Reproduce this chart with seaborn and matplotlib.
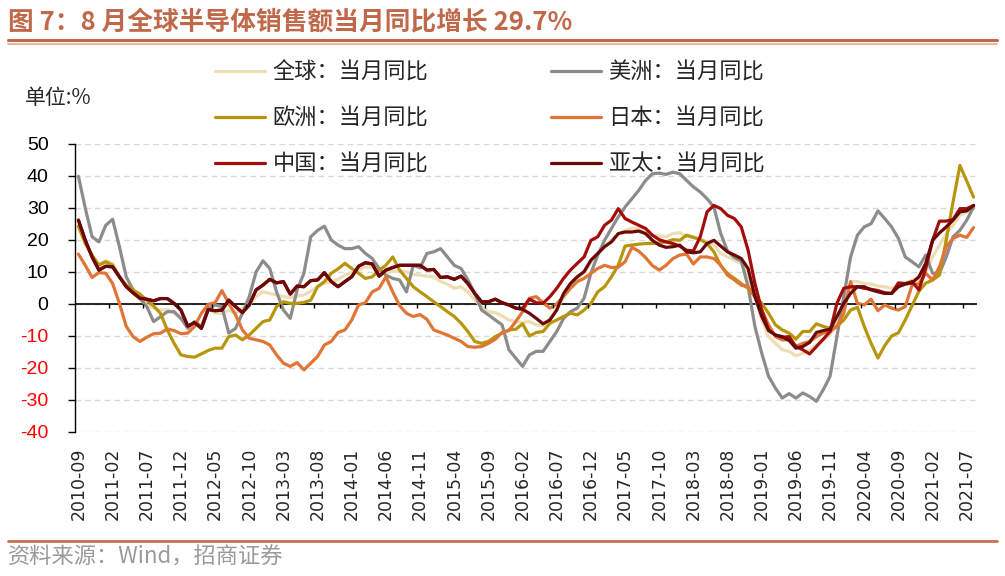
import pandas as pd
import matplotlib
matplotlib.use('Agg')
import matplotlib.pyplot as plt
from matplotlib.lines import Line2D
import seaborn as sns

# Data: monthly YoY growth (%), 2010-09 .. 2021-08
months = pd.date_range('2010-09-01', periods=132, freq='MS').strftime('%Y-%m')

global_yoy = [
    24.3, 19.0, 15.0, 12.5,
    13.5, 12.7, 8.5, 5.4, 3.3, 1.5, -0.3, -1.3, -1.9, -1.7, -2.9, -4.5,
    -7.0, -6.0, -7.6, -1.3, -2.9, -2.9, -1.9, -2.9, -1.3, -0.3, 2.3, 3.8,
    3.3, 2.8, 2.3, 2.0, 2.5, 2.8, 4.0, 5.5, 6.4, 7.0, 7.7, 9.0,
    9.8, 10.6, 11.6, 11.4, 10.6, 10.0, 10.2, 10.4, 10.0, 9.3, 9.0, 8.7,
    8.5, 7.0, 6.2, 4.9, 5.4, 3.8, 1.2, -0.8, -2.4, -2.7, -3.7, -5.0,
    -5.5, -5.8, -5.5, -6.5, -6.8, -4.5, -1.5, 1.8, 5.0, 8.0, 10.0, 13.0,
    15.5, 18.0, 20.0, 21.8, 23.0, 23.6, 23.6, 22.2, 21.5, 21.3, 21.0, 22.0,
    22.3, 21.2, 21.0, 20.5, 19.4, 18.4, 15.8, 14.7, 13.7, 12.7, 9.0, 2.3,
    -5.0, -10.2, -12.3, -14.3, -14.8, -16.2, -15.4, -14.3, -12.8, -11.2, -9.7, -5.5,
    0.2, 7.0, 7.0, 6.4, 6.2, 5.6, 5.4, 4.9, 5.4, 6.4, 7.5, 8.0,
    10.1, 14.7, 18.4, 22.0, 24.6, 27.7, 28.8, 29.7]

americas_yoy = [
    39.9, 30.0, 21.0, 19.4,
    24.6, 26.5, 17.9, 8.5, 4.4, 1.8, -0.8, -5.5, -4.0, -2.4, -2.4, -4.5,
    -7.6, -5.5, -7.0, -1.3, -0.3, -0.8, -9.1, -7.6, -2.9, 2.3, 10.0, 13.5,
    11.1, 3.8, -1.9, -4.5, 4.4, 9.6, 21.0, 23.0, 24.3, 20.0, 18.4, 17.3,
    17.3, 17.9, 15.8, 14.2, 11.1, 9.0, 8.0, 7.5, 3.8, 12.1, 11.3, 15.8,
    16.3, 17.3, 14.7, 12.1, 11.1, 7.5, 3.3, -1.9, -3.4, -5.0, -6.5, -14.3,
    -16.9, -19.5, -15.9, -14.8, -14.8, -11.7, -8.6, -4.5, -2.4, -1.3, 1.8, 9.6,
    15.3, 19.9, 23.6, 27.2, 30.3, 32.9, 35.5, 38.6, 40.7, 40.9, 40.5, 41.2,
    40.7, 38.6, 36.6, 35.0, 32.9, 30.3, 22.0, 16.5, 14.5, 13.5, 5.4, -7.0,
    -15.4, -22.6, -26.3, -29.4, -28.0, -29.4, -27.8, -28.9, -30.4, -26.8, -22.6, -10.2,
    2.3, 14.7, 21.5, 24.1, 25.1, 29.1, 26.7, 24.1, 20.5, 14.7, 13.2, 11.6,
    15.3, 9.6, 9.6, 14.7, 21.0, 23.0, 26.2, 30.3]

europe_yoy = [
    24.3, 18.9, 15.3, 12.1,
    13.2, 12.1, 8.5, 5.9, 4.4, 3.1, 1.2, -0.6, -2.9, -8.1, -12.3, -15.9,
    -16.4, -16.6, -15.6, -14.5, -13.8, -13.8, -10.2, -9.7, -11.2, -9.7, -7.6, -5.5,
    -5.0, -0.8, 0.7, 0.2, 0.2, 0.5, 1.2, 5.4, 7.0, 9.6, 11.0, 12.7,
    11.1, 9.6, 8.0, 8.5, 10.6, 12.1, 14.7, 10.6, 8.0, 5.4, 3.8, 2.3,
    0.7, -0.8, -2.4, -3.9, -6.0, -8.6, -11.7, -12.3, -11.7, -10.2, -9.1, -8.1,
    -7.9, -6.2, -10.0, -8.9, -8.6, -6.0, -5.0, -3.9, -2.9, -3.4, -1.9, 0.2,
    3.8, 5.4, 8.5, 12.1, 18.1, 18.4, 18.7, 18.9, 18.9, 19.1, 19.4, 20.1,
    19.9, 21.5, 20.8, 20.1, 18.9, 16.3, 12.0, 9.5, 8.0, 6.4, 4.9, 2.3,
    0.2, -2.9, -6.5, -8.1, -9.1, -11.0, -8.6, -8.6, -6.2, -7.0, -7.6, -7.0,
    -5.0, -1.9, -1.0, -7.0, -12.3, -16.9, -13.0, -10.0, -9.0, -5.0, -0.5, 4.0,
    6.5, 7.5, 9.0, 20.0, 32.0, 43.3, 38.4, 33.4]

japan_yoy = [
    15.6, 12.1, 8.3, 9.8,
    9.6, 6.4, 0.2, -7.0, -10.2, -11.7, -10.4, -9.3, -9.1, -7.8, -8.3, -9.3,
    -9.1, -7.0, -2.9, -0.1, 0.4, 4.2, 0.2, -3.4, -8.1, -10.7, -11.2, -11.7,
    -12.8, -15.9, -18.5, -19.5, -18.3, -20.6, -18.5, -16.4, -12.8, -11.7, -8.9, -8.1,
    -5.0, -0.3, 0.4, 3.8, 4.9, 8.5, 3.8, -0.5, -2.9, -3.9, -3.3, -4.8,
    -8.1, -8.9, -9.7, -10.7, -11.7, -13.3, -13.5, -13.3, -12.3, -11.0, -8.9, -8.3,
    -5.5, -2.4, 1.8, 2.3, 0.4, -1.3, 0.0, 2.5, 4.9, 7.0, 8.0, 9.6,
    11.1, 12.1, 11.4, 11.5, 13.2, 17.7, 16.5, 14.5, 12.0, 10.6, 12.1, 14.2,
    15.3, 15.6, 12.5, 14.7, 14.7, 14.2, 12.1, 9.0, 7.5, 5.9, 5.4, 2.3,
    -1.9, -6.5, -10.2, -11.2, -11.2, -13.3, -12.3, -11.7, -10.2, -9.1, -8.6, -7.0,
    -2.9, 7.0, 0.2, -0.3, 1.5, -2.1, -0.3, -1.3, -1.9, -0.8, 5.9, 6.4,
    9.6, 7.5, 11.6, 17.9, 20.5, 21.5, 20.8, 23.9]

china_yoy = [
    26.2, 20.0, 14.7, 10.6,
    11.8, 11.6, 8.5, 5.4, 3.5, 1.8, 1.5, 1.0, 1.7, 1.7, 0.2, -1.9,
    -6.9, -5.8, -7.6, -1.7, -2.1, -1.9, 1.2, -0.8, -2.7, -0.3, 4.4, 5.9,
    7.7, 6.6, 7.0, 3.1, 5.6, 5.4, 7.3, 7.5, 9.8, 7.0, 5.4, 7.0,
    8.5, 11.8, 12.9, 12.5, 8.7, 10.6, 11.4, 12.1, 12.1, 12.1, 12.1, 10.6,
    10.8, 8.3, 8.5, 7.7, 8.7, 6.4, 3.3, 0.7, 0.7, 1.5, 0.4, -0.3,
    -1.3, -1.3, 1.5, 0.4, 0.2, 2.3, 4.9, 8.0, 10.6, 12.7, 14.7, 19.9,
    21.0, 24.6, 26.2, 29.8, 26.7, 25.6, 24.6, 23.6, 21.5, 20.1, 19.4, 18.9,
    18.1, 16.8, 16.6, 21.0, 28.8, 30.8, 29.8, 27.7, 26.7, 24.1, 16.8, 6.4,
    -1.9, -8.1, -9.7, -10.4, -10.2, -13.3, -14.3, -15.6, -13.3, -11.0, -8.6, 0.2,
    4.9, 5.4, 5.4, 4.9, 4.6, 4.2, 3.5, 3.3, 6.6, 6.4, 7.0, 4.4,
    11.1, 19.9, 25.9, 25.9, 26.4, 29.8, 29.8, 30.8]

apac_yoy = [
    26.2, 20.0, 14.7, 10.6,
    11.8, 11.6, 8.5, 5.4, 3.5, 1.8, 1.5, 1.0, 1.7, 1.7, 0.2, -1.9,
    -6.9, -5.8, -7.6, -1.7, -2.1, -1.9, 1.2, -0.8, -2.7, -0.3, 4.4, 5.9,
    7.7, 6.6, 7.0, 3.1, 5.6, 5.4, 7.3, 7.5, 9.8, 7.0, 5.4, 7.0,
    8.5, 11.8, 12.9, 12.5, 8.7, 10.6, 11.4, 12.1, 12.1, 12.1, 12.1, 10.6,
    10.8, 8.3, 8.5, 7.7, 8.7, 6.4, 3.3, 0.7, 0.7, 1.5, 0.4, -0.3,
    -1.3, -1.7, -2.9, -4.5, -6.2, -5.0, -1.9, 3.3, 6.4, 8.5, 10.1, 13.7,
    15.8, 17.9, 19.4, 22.0, 22.5, 22.5, 22.8, 22.0, 19.9, 18.4, 17.7, 17.9,
    18.4, 16.3, 16.0, 16.3, 18.9, 19.9, 18.1, 16.3, 15.3, 14.2, 11.1, 2.3,
    -3.9, -8.3, -9.7, -10.2, -11.4, -13.8, -13.3, -12.0, -8.9, -8.3, -7.9, -3.9,
    0.2, 3.3, 5.4, 5.4, 4.4, 3.8, 3.3, 3.3, 5.4, 6.2, 6.6, 8.5,
    12.7, 19.9, 22.2, 24.1, 26.2, 28.8, 29.1, 30.8]

series_names = ['全球：当月同比', '美洲：当月同比', '欧洲：当月同比',
                '日本：当月同比', '中国：当月同比', '亚太：当月同比']
colors = ['#EEDDB3', '#8C8C8C', '#B8960C', '#E07535', '#A50D0D', '#6B0808']

df = pd.DataFrame({'idx': range(len(months)),
                   series_names[0]: global_yoy,
                   series_names[1]: americas_yoy,
                   series_names[2]: europe_yoy,
                   series_names[3]: japan_yoy,
                   series_names[4]: china_yoy,
                   series_names[5]: apac_yoy})
long_df = df.melt(id_vars='idx', var_name='series', value_name='yoy')

sns.set_theme(style='white')
plt.rcParams['font.family'] = ['Noto Sans CJK SC', 'DejaVu Sans']
plt.rcParams['axes.unicode_minus'] = False

fig = plt.figure(figsize=(10.05, 5.76), dpi=100)
ax = fig.add_axes([75 / 1005, 1 - 432 / 576, 902 / 1005, 288 / 576])

sns.lineplot(data=long_df, x='idx', y='yoy', hue='series', hue_order=series_names,
             palette=dict(zip(series_names, colors)), linewidth=2.3,
             legend=False, ax=ax)

ax.set_xlim(-0.5, 131.5)
ax.set_ylim(-40, 50)
ax.set_xlabel('')
ax.set_ylabel('')

# y axis
yt = list(range(-40, 51, 10))
ax.set_yticks(yt)
ax.set_yticklabels([str(v) for v in yt], fontfamily='Liberation Sans', fontsize=14)
for lab, v in zip(ax.get_yticklabels(), yt):
    lab.set_color('#FF0000' if v < 0 else 'black')
ax.tick_params(axis='y', which='major', direction='out', length=5, width=1,
               color='black', pad=14, left=True)
ax.yaxis.grid(True, color='#D9D9D9', linestyle=(0, (4, 3)), linewidth=1)
ax.xaxis.grid(False)

# x axis
ax.set_xticks(range(0, len(months), 5))
ax.set_xticklabels(months[::5], rotation=90, fontfamily='DejaVu Sans', fontsize=12.5)
ax.tick_params(axis='x', length=0, pad=11)

for s in ['top', 'right', 'bottom']:
    ax.spines[s].set_visible(False)
ax.spines['left'].set_color('black')
ax.spines['left'].set_linewidth(1)

ax.axhline(0, color='black', linewidth=1.2, zorder=1.5)
ax.vlines([p + 4.5 for p in range(0, len(months), 5)], -1.3, 0, color='black', linewidth=1)

# legend
lines = ax.get_lines()
order = [0, 2, 4, 1, 3, 5]
fig.legend([lines[k] for k in order], [series_names[k] for k in order],
           loc='upper left', bbox_to_anchor=(215 / 1005, 1 - 61 / 576), ncol=2,
           frameon=False, fontsize=16, handlelength=2.25, handletextpad=0.35,
           columnspacing=5.5, labelspacing=1.03, borderpad=0, borderaxespad=0)

fig.text(25 / 1005, 1 - 98 / 576, '单位:%', fontsize=15, va='center', ha='left')

# title and frame lines
fig.text(8 / 1005, 1 - 22 / 576, '图 7：8 月全球半导体销售额当月同比增长 29.7%',
         fontsize=18.5, fontweight='bold', color='#C0694A', va='center', ha='left')
fig.add_artist(Line2D([8 / 1005, 997 / 1005], [1 - 40 / 576] * 2, color='#C0694A', linewidth=2.2))
fig.add_artist(Line2D([8 / 1005, 997 / 1005], [1 - 43.5 / 576] * 2, color='#E0A88E', linewidth=1.2))
fig.add_artist(Line2D([8 / 1005, 997 / 1005], [1 - 541 / 576] * 2, color='#C87050', linewidth=2))
fig.text(8 / 1005, 1 - 557 / 576, '资料来源：Wind，招商证券', fontsize=16,
         color='#9A9A9A', va='center', ha='left')

fig.savefig('out.png', dpi=100)
